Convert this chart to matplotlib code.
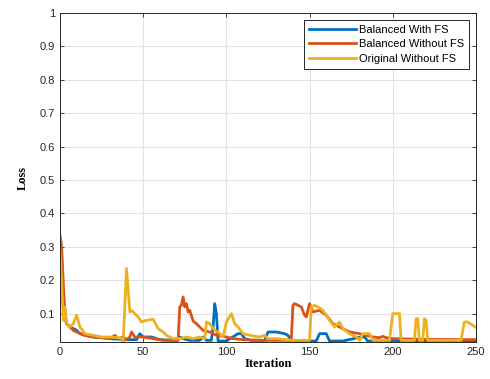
import matplotlib.pyplot as plt

# iteration / loss values
bx = [0, 1, 2, 3, 4, 6, 8, 10, 12, 15, 20, 25, 30, 40, 46, 48, 50, 55, 60, 70,
      72, 74, 78, 84, 86, 88, 91, 92, 93, 94, 95, 100, 107, 109, 111, 115, 123, 125, 130, 135,
      137, 139, 150, 154, 156, 160, 162, 170, 181, 183, 185, 200, 250]
by = [0.30, 0.20, 0.12, 0.085, 0.07, 0.06, 0.055, 0.05, 0.04, 0.035, 0.03, 0.028, 0.025, 0.022, 0.022, 0.04, 0.03, 0.03, 0.022, 0.02,
      0.03, 0.025, 0.02, 0.02, 0.03, 0.02, 0.02, 0.06, 0.13, 0.10, 0.018, 0.018, 0.04, 0.04, 0.025, 0.02, 0.02, 0.045, 0.045, 0.04,
      0.035, 0.02, 0.018, 0.018, 0.04, 0.04, 0.018, 0.018, 0.03, 0.03, 0.018, 0.018, 0.017]

rx = [0, 1, 2, 3, 4, 6, 8, 10, 15, 20, 25, 30, 33, 35, 38, 40, 42, 43, 45, 50,
      56, 62, 70, 71, 72, 73, 74, 75, 76, 77, 78, 80, 82, 84, 86, 90, 94, 100, 104, 110,
      120, 130, 138, 139, 140, 141, 143, 145, 147, 148, 150, 152, 156, 160, 164, 166, 170, 174, 180, 184,
      188, 192, 194, 196, 200, 220, 250]
ry = [0.335, 0.30, 0.19, 0.10, 0.07, 0.06, 0.05, 0.045, 0.035, 0.03, 0.028, 0.025, 0.035, 0.025, 0.03, 0.022, 0.03, 0.045, 0.03, 0.03,
      0.025, 0.02, 0.02, 0.02, 0.12, 0.125, 0.15, 0.12, 0.13, 0.105, 0.11, 0.078, 0.07, 0.06, 0.05, 0.045, 0.035, 0.03, 0.025, 0.022,
      0.02, 0.02, 0.02, 0.018, 0.125, 0.13, 0.125, 0.12, 0.095, 0.09, 0.13, 0.105, 0.11, 0.095, 0.07, 0.065, 0.055, 0.045, 0.04, 0.035,
      0.03, 0.028, 0.032, 0.028, 0.025, 0.023, 0.022]

yx = [0, 1, 2, 3, 4, 5, 6, 8, 10, 12, 15, 20, 25, 30, 35, 37, 38, 40, 42, 43,
      45, 47, 49, 52, 56, 59, 62, 64, 68, 72, 76, 80, 84, 87, 88, 90, 93, 95, 98, 100,
      103, 105, 107, 110, 114, 120, 123, 125, 130, 140, 150, 151, 153, 155, 158, 162, 165, 168, 170, 174,
      178, 180, 182, 186, 188, 198, 200, 204, 205, 213, 214, 215, 216, 218, 219, 220, 221, 241, 243, 245,
      248, 250]
yy = [0.29, 0.20, 0.08, 0.12, 0.07, 0.065, 0.06, 0.07, 0.095, 0.06, 0.04, 0.035, 0.03, 0.03, 0.028, 0.025, 0.015, 0.235, 0.105, 0.11,
      0.10, 0.09, 0.075, 0.08, 0.083, 0.055, 0.045, 0.035, 0.025, 0.025, 0.03, 0.025, 0.03, 0.025, 0.075, 0.07, 0.05, 0.045, 0.03, 0.075,
      0.10, 0.07, 0.06, 0.04, 0.035, 0.03, 0.035, 0.025, 0.025, 0.02, 0.02, 0.12, 0.125, 0.12, 0.11, 0.08, 0.06, 0.075, 0.055, 0.04,
      0.03, 0.02, 0.04, 0.04, 0.02, 0.02, 0.10, 0.10, 0.02, 0.02, 0.085, 0.085, 0.02, 0.02, 0.085, 0.08, 0.02, 0.02, 0.075, 0.075,
      0.065, 0.058]

labels = ['Balanced With FS', 'Balanced Without FS', 'Original Without FS']
colors = ['#0072BD', '#D95319', '#EDB120']
xticks = [0, 50, 100, 150, 200, 250]
yticks = [0.1, 0.2, 0.3, 0.4, 0.5, 0.6, 0.7, 0.8, 0.9, 1]

plt.rcParams['font.family'] = ['Liberation Sans', 'DejaVu Sans']

fig = plt.figure(figsize=(4.9, 3.79), dpi=100)
ax = fig.add_axes([0.1224, 0.0976, 0.849, 0.868])

for xs, ys, c, lab in zip([bx, rx, yx], [by, ry, yy], colors, labels):
    ax.plot(xs, ys, color=c, linewidth=2, label=lab)

ax.set_xlim(0, 250)
ax.set_ylim(0.015, 1)
ax.set_xticks(xticks)
ax.set_yticks(yticks)
ax.set_yticklabels([f'{v:g}' for v in yticks])
ax.grid(True, color='#e3e3e3', linewidth=0.8)
ax.set_axisbelow(True)
ax.tick_params(direction='in', length=3, width=0.6, labelsize=8, colors='#262626',
               top=True, right=True)
for s in ax.spines.values():
    s.set_color('#262626')
    s.set_linewidth(0.7)

ax.set_xlabel('Iteration', family='Liberation Serif', fontweight='bold', fontsize=9, labelpad=1)
ax.set_ylabel('Loss', family='Liberation Serif', fontweight='bold', fontsize=9, labelpad=8)

leg = ax.legend(loc='upper right', fontsize=8, fancybox=False, framealpha=1,
                edgecolor='#262626', borderpad=0.45, handlelength=4.2, handletextpad=0.3,
                labelspacing=0.4, borderaxespad=0.6)
leg.get_frame().set_linewidth(0.7)

fig.savefig('out.png', dpi=100)
